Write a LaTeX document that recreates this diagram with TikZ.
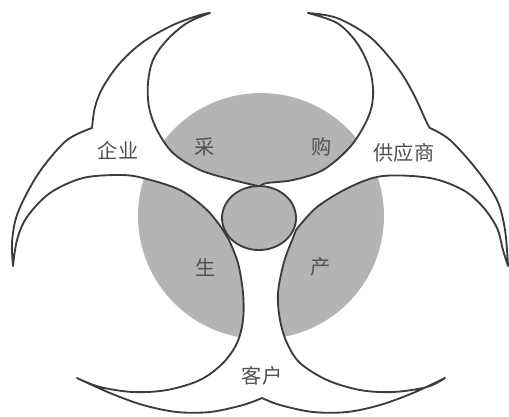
\documentclass[tikz,border=0pt]{standalone}
\usepackage{fontspec}
\setmainfont{Noto Sans CJK SC}
\definecolor{linec}{HTML}{3C3C3C}
\definecolor{diskgray}{HTML}{B4B4B4}
\definecolor{textc}{HTML}{505050}
\begin{document}
\begin{tikzpicture}[x=0.02cm,y=-0.02cm,line join=round,
  outline/.style={draw=linec,line width=1.05pt},
  lbl/.style={text=textc,inner sep=0pt,font=\fontsize{11.5}{13}\selectfont},
  sm/.style={smooth,tension=0.55}]
\useasboundingbox (0,0) rectangle (509,416);
% large shaded disc (shows through the openings)
\fill[diskgray] (261,216) circle [radius=2.46cm];
% the three-armed figure (one closed outline)
\path[fill=white,outline]
  plot[sm] coordinates {(210,13) (187,23) (167,40) (153,60) (148,83) (149,107) (157,130) (173,153) (200,170) (233,180) (258,186)}
  -- plot[sm] coordinates {(260,186) (267,183) (293,180) (323,170) (350,147) (367,120) (373,97) (370,70) (357,43) (337,23) (308,13)}
  -- plot[sm] coordinates {(308,13) (337,18) (370,37) (397,67) (413,93) (427,123) (430,128)}
  -- plot[sm] coordinates {(430,128) (450,140) (477,170) (497,200) (505,230) (508,266)}
  -- plot[sm] coordinates {(508,266) (503,250) (497,228) (483,207) (463,190) (430,178) (383,176) (350,187) (317,207) (296,230)}
  -- plot[sm] coordinates {(293,238) (284,262) (278,293) (280,320) (287,343) (300,363) (327,380) (360,390) (393,392) (427,387) (445,378)}
  -- plot[sm] coordinates {(445,378) (413,393) (380,405) (347,412) (313,412) (280,405) (262,398)}
  -- plot[sm] coordinates {(262,398) (243,405) (210,412) (177,412) (143,405) (110,393) (77,378)}
  -- plot[sm] coordinates {(77,378) (100,387) (133,392) (167,390) (200,380) (223,363) (237,343) (243,320) (243,293) (238,263) (229,240)}
  -- plot[sm] coordinates {(223,230) (207,210) (180,190) (143,178) (120,175) (83,178) (50,193) (27,217) (17,240) (13,266)}
  -- plot[sm] coordinates {(13,266) (12,243) (16,218) (27,193) (43,167) (67,140) (92,128)}
  -- plot[sm] coordinates {(92,128) (95,107) (103,87) (120,63) (143,42) (173,25) (200,15) (210,13)}
  -- cycle;
% central disc
\path[fill=diskgray,outline] (259,218) ellipse [x radius=0.74cm,y radius=0.64cm];
% labels
\node[lbl] (qiye) at (118,150) {企业};
\node[lbl] (cai) at (205,147) {采};
\node[lbl] (gou) at (322,147) {购};
\node[lbl] (gys) at (404,153) {供应商};
\node[lbl] (sheng) at (206,267) {生};
\node[lbl] (chan) at (321,267) {产};
\node[lbl] (kehu) at (262,376) {客户};
\end{tikzpicture}
\end{document}
